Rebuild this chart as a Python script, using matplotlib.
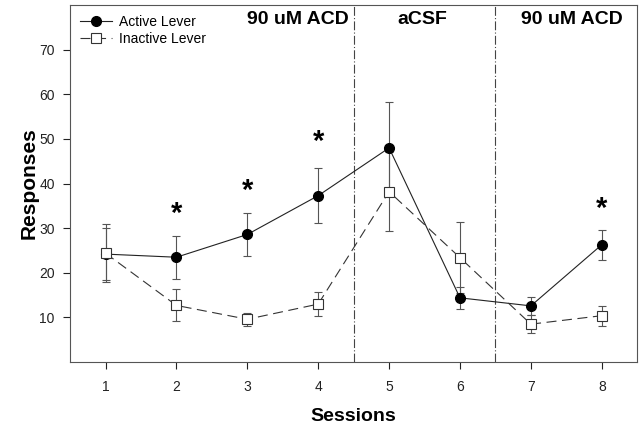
import numpy as np
import matplotlib
matplotlib.use("Agg")
import matplotlib.pyplot as plt

plt.rcParams['font.family'] = ['Liberation Sans', 'DejaVu Sans']

sessions = [1, 2, 3, 4, 5, 6, 7, 8]
active = [24.2, 23.5, 28.6, 37.3, 48.0, 14.4, 12.6, 26.3]
active_err = [5.9, 4.8, 4.9, 6.2, 10.2, 2.5, 2.1, 3.4]
inactive = [24.4, 12.7, 9.6, 13.0, 38.2, 23.4, 8.5, 10.4]
inactive_err = [6.5, 3.6, 1.5, 2.7, 8.8, 7.9, 2.0, 2.2]
star_sessions = [2, 3, 4, 8]
star_y = [33.3, 38.3, 49.3, 34.3]
phase_labels = ['90 uM ACD', 'aCSF', '90 uM ACD']
phase_x = [3.72, 5.47, 7.58]
phase_bounds = [4.5, 6.5]

fig = plt.figure(figsize=(6.43, 4.25), dpi=100)
ax = fig.add_axes([0.109, 0.148, 0.882, 0.840])

ax.errorbar(sessions, active, yerr=active_err, fmt='none', ecolor='#555555',
            elinewidth=0.8, capsize=3, capthick=0.8, zorder=2)
ax.errorbar(sessions, inactive, yerr=inactive_err, fmt='none', ecolor='#555555',
            elinewidth=0.8, capsize=3, capthick=0.8, zorder=2)
ax.plot(sessions, active, color='#222222', lw=0.8, linestyle='-',
        marker='o', markersize=7, markerfacecolor='black', markeredgecolor='black',
        label='Active Lever', zorder=3)
ax.plot(sessions, inactive, color='#333333', lw=0.8, linestyle=(0, (9, 5)),
        marker='s', markersize=7, markerfacecolor='white', markeredgecolor='#333333',
        markeredgewidth=0.8, label='Inactive Lever', zorder=4)

for b in phase_bounds:
    ax.axvline(b, color='#444444', lw=0.8, linestyle=(0, (8, 2, 1, 2)), zorder=1)

for x, y in zip(star_sessions, star_y):
    ax.text(x, y, '*', ha='center', va='center', fontsize=21, fontweight='bold')

for x, t in zip(phase_x, phase_labels):
    ax.text(x, 76.8, t, ha='center', va='center', fontsize=14, fontweight='bold')

ax.set_xlim(0.5, 8.5)
ax.set_ylim(0, 80)
ax.set_xticks(sessions)
ax.set_yticks([10, 20, 30, 40, 50, 60, 70])
ax.tick_params(direction='out', length=5, width=0.8, labelsize=10, colors='#222222')
ax.tick_params(axis='x', pad=8)
ax.tick_params(axis='y', pad=6)
for s in ax.spines.values():
    s.set_linewidth(0.8)
    s.set_color('#555555')

ax.set_xlabel('Sessions', fontsize=14, fontweight='bold', labelpad=10)
ax.set_ylabel('Responses', fontsize=15, fontweight='bold')
ax.yaxis.set_label_coords(-0.055, 0.5)

ax.legend(loc='upper left', frameon=False, fontsize=10,
          handlelength=2.3, handletextpad=0.5, borderaxespad=0.3, labelspacing=0.2)

fig.savefig('out.png', dpi=100)
